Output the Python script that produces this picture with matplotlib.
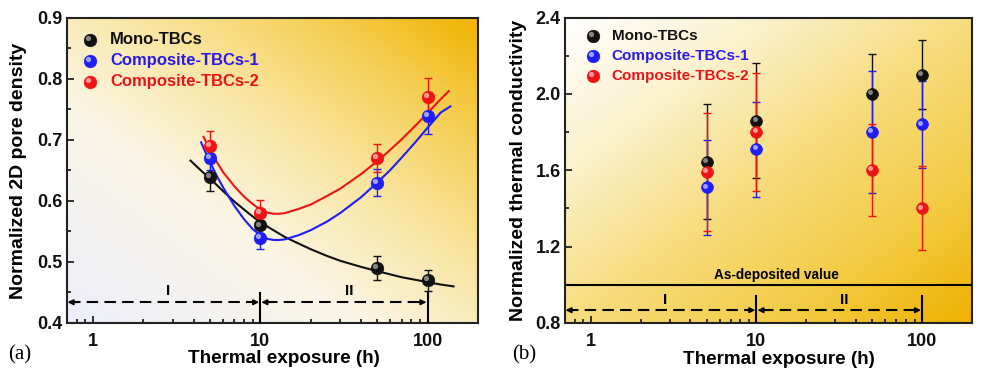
import numpy as np
import matplotlib
matplotlib.use("Agg")
import matplotlib.pyplot as plt
from matplotlib.colors import LinearSegmentedColormap
from matplotlib.transforms import offset_copy
from matplotlib.ticker import MultipleLocator

plt.rcParams['font.family'] = ['Liberation Sans', 'DejaVu Sans']
plt.rcParams['font.weight'] = 'bold'

# ---------------- data ----------------
hours = [5, 10, 50, 100]
series_names = ["Mono-TBCs", "Composite-TBCs-1", "Composite-TBCs-2"]

# (a) normalized 2D pore density
pore_mono = [0.64, 0.56, 0.49, 0.47]
pore_mono_err = [0.023, 0.015, 0.019, 0.017]
pore_c1 = [0.67, 0.54, 0.63, 0.74]
pore_c1_err = [0.02, 0.019, 0.022, 0.03]
pore_c2 = [0.69, 0.58, 0.67, 0.77]
pore_c2_err = [0.024, 0.022, 0.023, 0.031]

# fitted curves
fit_mono_x = [3.83, 4.5, 5, 6, 7, 8.5, 10, 12, 14, 17, 20, 25, 30, 40, 50, 70, 100, 120, 143]
fit_mono_y = [0.666, 0.648, 0.637, 0.616, 0.599, 0.580, 0.565, 0.552, 0.541, 0.530,
              0.521, 0.510, 0.502, 0.492, 0.485, 0.475, 0.467, 0.463, 0.460]
fit_c1_x = [4.43, 5, 5.5, 6, 7, 8, 9, 10, 11, 12, 13, 14, 17, 20, 25, 30, 40, 50, 60, 70,
            85, 100, 120, 137]
fit_c1_y = [0.696, 0.664, 0.641, 0.622, 0.592, 0.570, 0.554, 0.544, 0.538, 0.536, 0.536,
            0.537, 0.544, 0.552, 0.566, 0.580, 0.606, 0.630, 0.651, 0.671, 0.697, 0.720,
            0.745, 0.755]
fit_c2_x = [4.58, 5, 5.5, 6, 7, 8, 9, 10, 11, 12, 13, 14, 17, 20, 25, 30, 40, 50, 60, 70,
            85, 100, 120, 134]
fit_c2_y = [0.705, 0.684, 0.664, 0.647, 0.624, 0.607, 0.595, 0.586, 0.581, 0.579, 0.579,
            0.580, 0.587, 0.594, 0.608, 0.620, 0.644, 0.665, 0.684, 0.701, 0.724, 0.744,
            0.767, 0.780]

# (b) normalized thermal conductivity
tc_mono = [1.645, 1.86, 2.0, 2.1]
tc_mono_err = [0.30, 0.30, 0.21, 0.18]
tc_c1 = [1.51, 1.71, 1.80, 1.84]
tc_c1_err = [0.25, 0.25, 0.32, 0.23]
tc_c2 = [1.59, 1.80, 1.60, 1.40]
tc_c2_err = [0.31, 0.31, 0.24, 0.22]
as_deposited = 1.0

stage_labels = ["I", "II"]
x_ticks = [1, 10, 100]
x_ticklabels = ["1", "10", "100"]
left_yticks = [0.4, 0.5, 0.6, 0.7, 0.8, 0.9]
right_yticks = [0.8, 1.2, 1.6, 2.0, 2.4]

# ---------------- style ----------------
cols = ["#111111", "#1E1EF5", "#EE1414"]
hl_cols = ["#9a9a9a", "#b8b8ff", "#ffb0b0"]
txt_cols = ["#111111", "#2B1BE8", "#E8141A"]

fig = plt.figure(figsize=(9.83, 3.79), dpi=100)

posL = [0.0682, 0.1478, 0.418, 0.805]
posR = [0.5748, 0.1478, 0.414, 0.806]

cmapL = LinearSegmentedColormap.from_list("gL", [
    (0.0, "#ECEEFA"), (0.35, "#FBF6E8"), (0.58, "#F9E6A4"),
    (0.8, "#F5CF55"), (1.0, "#F1B300")])
cmapR = LinearSegmentedColormap.from_list("gR", [
    (0.0, "#FFFFFF"), (0.25, "#FBF1CC"), (0.5, "#F7DD80"),
    (0.78, "#F3CA40"), (1.0, "#EFB100")])

n = 200
u, v = np.meshgrid(np.linspace(0, 1, n), np.linspace(0, 1, n))
gradL = (u + v) / 2.0
gradR = (u + (1 - v)) / 2.0

for pos, grad, cm in [(posL, gradL, cmapL), (posR, gradR, cmapR)]:
    bg = fig.add_axes(pos, zorder=0)
    bg.imshow(grad, origin="lower", extent=[0, 1, 0, 1], aspect="auto", cmap=cm,
              vmin=0, vmax=1, interpolation="bilinear")
    bg.set_axis_off()

axL = fig.add_axes(posL, zorder=1)
axR = fig.add_axes(posR, zorder=1)


def sphere(ax, x, y, i, ms=9, transform=None):
    tr = ax.transData if transform is None else transform
    ax.plot(x, y, "o", ms=ms, color=cols[i], mec=cols[i], mew=0.5, transform=tr, zorder=5,
            linestyle="none")
    tr2 = offset_copy(tr, fig=fig, x=-1.3, y=1.3, units="points")
    ax.plot(x, y, "o", ms=ms * 0.42, color=hl_cols[i], mec="none", alpha=0.85,
            transform=tr2, zorder=6, linestyle="none")


def style(ax, ylim, yticks, yminor):
    ax.set_facecolor("none")
    ax.set_xscale("log")
    ax.set_xlim(0.7, 200)
    ax.set_ylim(*ylim)
    ax.set_xticks(x_ticks)
    ax.set_xticklabels(x_ticklabels)
    ax.set_yticks(yticks)
    ax.yaxis.set_minor_locator(MultipleLocator(yminor))
    ax.tick_params(which="both", direction="in", top=False, right=False, width=1.2,
                   labelsize=13, colors="#111111")
    ax.tick_params(which="major", length=5)
    ax.tick_params(which="minor", length=3)
    ax.tick_params(axis="x", pad=7)
    ax.tick_params(axis="y", pad=3)
    for s in ax.spines.values():
        s.set_linewidth(1.5)
        s.set_color("#222222")
    for lab in ax.get_xticklabels() + ax.get_yticklabels():
        lab.set_fontweight("bold")


def stage_arrows(ax, y, vtop, ty):
    kw = dict(color="black", lw=1.5, ls=(0, (5.5, 3)), zorder=3)
    ax.plot([0.72, 9.3], [y, y], **kw)
    ax.plot([10.8, 93], [y, y], **kw)
    ap = dict(arrowstyle="-|>", color="black", lw=1.2, mutation_scale=8, shrinkA=0, shrinkB=0)
    ax.annotate("", xy=(0.705, y), xytext=(0.8, y), arrowprops=ap, zorder=4)
    ax.annotate("", xy=(9.85, y), xytext=(8.8, y), arrowprops=ap, zorder=4)
    ax.annotate("", xy=(10.15, y), xytext=(11.4, y), arrowprops=ap, zorder=4)
    ax.annotate("", xy=(98.5, y), xytext=(88, y), arrowprops=ap, zorder=4)
    ylo = ax.get_ylim()[0]
    ax.plot([10, 10], [ylo, vtop], color="black", lw=1.5, zorder=4)
    ax.plot([100, 100], [ylo, vtop], color="black", lw=1.5, zorder=4)
    ax.text(2.82, ty, stage_labels[0], ha="center", va="center", fontsize=11,
            fontweight="bold", zorder=4)
    ax.text(34, ty, stage_labels[1], ha="center", va="center", fontsize=11,
            fontweight="bold", zorder=4)


def legend(ax, mx, tx, ys, fs):
    for i, (name, yy) in enumerate(zip(series_names, ys)):
        sphere(ax, [mx], [yy], i, ms=9, transform=ax.transAxes)
        ax.text(tx, yy, name, transform=ax.transAxes, color=txt_cols[i], fontsize=fs,
                fontweight="bold", va="center", ha="left")


# ---------------- panel (a) ----------------
style(axL, (0.4, 0.9), left_yticks, 0.05)
axL.plot(fit_mono_x, fit_mono_y, color=cols[0], lw=1.5, zorder=3)
axL.plot(fit_c1_x, fit_c1_y, color=cols[1], lw=1.5, zorder=3)
axL.plot(fit_c2_x, fit_c2_y, color=cols[2], lw=1.5, zorder=3)
for i, (vals, errs) in enumerate([(pore_mono, pore_mono_err), (pore_c1, pore_c1_err),
                                  (pore_c2, pore_c2_err)]):
    axL.errorbar(hours, vals, yerr=errs, fmt="none", ecolor=cols[i], elinewidth=1.0,
                 capsize=3, capthick=1.0, zorder=4)
    sphere(axL, hours, vals, i)
stage_arrows(axL, 0.434, 0.449, 0.453)
legend(axL, 0.056, 0.105, [0.928, 0.859, 0.790], 12)
axL.set_ylabel("Normalized 2D pore density", fontsize=14, fontweight="bold")
axL.set_xlabel("Thermal exposure (h)", fontsize=13.6, fontweight="bold")
axL.yaxis.set_label_coords(-0.119, 0.5)
axL.xaxis.set_label_coords(0.527, -0.118)
axL.xaxis.label.set_va("center")
axL.yaxis.label.set_va("center")

# ---------------- panel (b) ----------------
style(axR, (0.8, 2.4), right_yticks, 0.2)
axR.axhline(as_deposited, color="black", lw=1.5, zorder=3)
axR.text(13.3, 1.05, "As-deposited value", ha="center", va="center", fontsize=9.8,
         fontweight="bold", zorder=4)
for i, (vals, errs) in enumerate([(tc_mono, tc_mono_err), (tc_c1, tc_c1_err),
                                  (tc_c2, tc_c2_err)]):
    axR.errorbar(hours, vals, yerr=errs, fmt="none", ecolor=cols[i], elinewidth=1.0,
                 capsize=3, capthick=1.0, zorder=4)
for i, vals in enumerate([tc_mono, tc_c1, tc_c2]):
    sphere(axR, hours, vals, i, ms=8.5)
stage_arrows(axR, 0.867, 0.94, 0.92)
legend(axR, 0.069, 0.115, [0.939, 0.874, 0.808], 11)
axR.set_ylabel("Normalized thermal conductivity", fontsize=14, fontweight="bold")
axR.set_xlabel("Thermal exposure (h)", fontsize=13.6, fontweight="bold")
axR.yaxis.set_label_coords(-0.115, 0.5)
axR.xaxis.set_label_coords(0.525, -0.118)
axR.xaxis.label.set_va("center")
axR.yaxis.label.set_va("center")

fig.text(0.008, 0.065, "(a)", family=["Liberation Serif", "DejaVu Serif"], fontsize=15,
         fontweight="normal", va="center", ha="left")
fig.text(0.521, 0.065, "(b)", family=["Liberation Serif", "DejaVu Serif"], fontsize=15,
         fontweight="normal", va="center", ha="left")

fig.savefig("out.png", dpi=100)
